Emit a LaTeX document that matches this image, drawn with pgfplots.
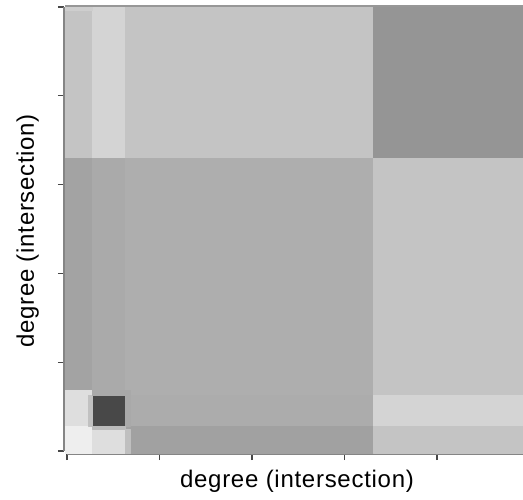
\documentclass[border=0pt]{standalone}
\usepackage{fontspec}
\setmainfont{Liberation Sans}
\newfontfamily\labelfont[LetterSpace=3]{Liberation Sans}
\usepackage{pgfplots}
\usepackage{pgfplotstable}
\pgfplotsset{compat=1.18}
\usepgfplotslibrary{patchplots}

% Block-structured intersection-degree matrix; each group of four rows is one
% rectangular cell (corners x,y) with its grey level c (0 = black, 255 = white).
\pgfplotstableread{
x y c
-0.0045 0.6599 195
0.0541 0.6599 195
0.0541 1.0045 195
-0.0045 1.0045 195
0.0541 0.6599 211
0.1254 0.6599 211
0.1254 1.0045 211
0.0541 1.0045 211
0.1254 0.6599 195
0.6616 0.6599 195
0.6616 1.0045 195
0.1254 1.0045 195
0.6616 0.6599 148
1.0045 0.6599 148
1.0045 1.0045 148
0.6616 1.0045 148
-0.0045 0.1261 162
0.0541 0.1261 162
0.0541 0.6599 162
-0.0045 0.6599 162
0.0541 0.1261 169
0.1254 0.1261 169
0.1254 0.6599 169
0.0541 0.6599 169
0.1254 0.1261 173
0.6616 0.1261 173
0.6616 0.6599 173
0.1254 0.6599 173
0.6616 0.1261 195
1.0045 0.1261 195
1.0045 0.6599 195
0.6616 0.6599 195
-0.0045 0.0563 220
0.0541 0.0563 220
0.0541 0.1261 220
-0.0045 0.1261 220
0.0541 0.0563 71
0.1254 0.0563 71
0.1254 0.1261 71
0.0541 0.1261 71
0.1254 0.0563 171
0.6616 0.0563 171
0.6616 0.1261 171
0.1254 0.1261 171
0.6616 0.0563 211
1.0045 0.0563 211
1.0045 0.1261 211
0.6616 0.1261 211
-0.0045 -0.0045 236
0.0541 -0.0045 236
0.0541 0.0563 236
-0.0045 0.0563 236
0.0541 -0.0045 220
0.1254 -0.0045 220
0.1254 0.0563 220
0.0541 0.0563 220
0.1254 -0.0045 160
0.6616 -0.0045 160
0.6616 0.0563 160
0.1254 0.0563 160
0.6616 -0.0045 195
1.0045 -0.0045 195
1.0045 0.0563 195
0.6616 0.0563 195
}\blocks

% Narrow boundary cells between the blocks
\pgfplotstableread{
x y c
-0.0045 0.1261 220
0.0541 0.1261 220
0.0541 0.1374 220
-0.0045 0.1374 220
0.0454 0.0563 192
0.0551 0.0563 192
0.0551 0.1261 192
0.0454 0.1261 192
0.0541 0.1261 168
0.1254 0.1261 168
0.1254 0.1374 168
0.0541 0.1374 168
0.1254 0.0563 168
0.1362 0.0563 168
0.1362 0.1374 168
0.1254 0.1374 168
0.0541 0.0495 186
0.1254 0.0495 186
0.1254 0.0563 186
0.0541 0.0563 186
0.1254 -0.0045 190
0.1362 -0.0045 190
0.1362 0.0495 190
0.1254 0.0495 190
-0.0045 0.9932 205
0.0541 0.9932 205
0.0541 1.0010 205
-0.0045 1.0010 205
-0.0045 1.0018 150
1.0045 1.0018 150
1.0045 1.0045 150
-0.0045 1.0045 150
}\edges

\begin{document}
\begin{tikzpicture}
\useasboundingbox (-64pt,-45pt) rectangle (459pt,454pt);
\begin{axis}[
  scale only axis,
  width=459pt, height=449pt,
  xmin=-0.0065, xmax=0.986,
  ymin=-0.00676, ymax=1.0045,
  axis x line*=bottom, axis y line*=left,
  axis line style={-, draw=black!48, line width=1.3pt},
  x axis line style={shorten <=3pt},
  y axis line style={shorten <=3pt, shorten >=2pt},
  xtick={0,0.2,0.4,0.6,0.8}, ytick={0,0.2,0.4,0.6,0.8,1},
  xticklabels={}, yticklabels={},
  tick align=outside, major tick length=6pt,
  major tick style={draw=black!72, line width=1.2pt},
  colormap/blackwhite,
  point meta min=0, point meta max=255,
  xlabel={degree (intersection)},
  ylabel={degree (intersection)},
  label style={font=\labelfont\fontsize{24}{28}\selectfont},
  xlabel style={at={(axis description cs:0.5076,-0.0757)}, anchor=base},
  ylabel style={at={(axis description cs:-0.0654,0.4967)}, anchor=base},
]
\addplot[patch, patch type=rectangle, shader=flat, point meta=\thisrow{c}] table {\blocks};
\addplot[patch, patch type=rectangle, shader=flat, point meta=\thisrow{c}] table {\edges};
\end{axis}
\end{tikzpicture}
\end{document}
